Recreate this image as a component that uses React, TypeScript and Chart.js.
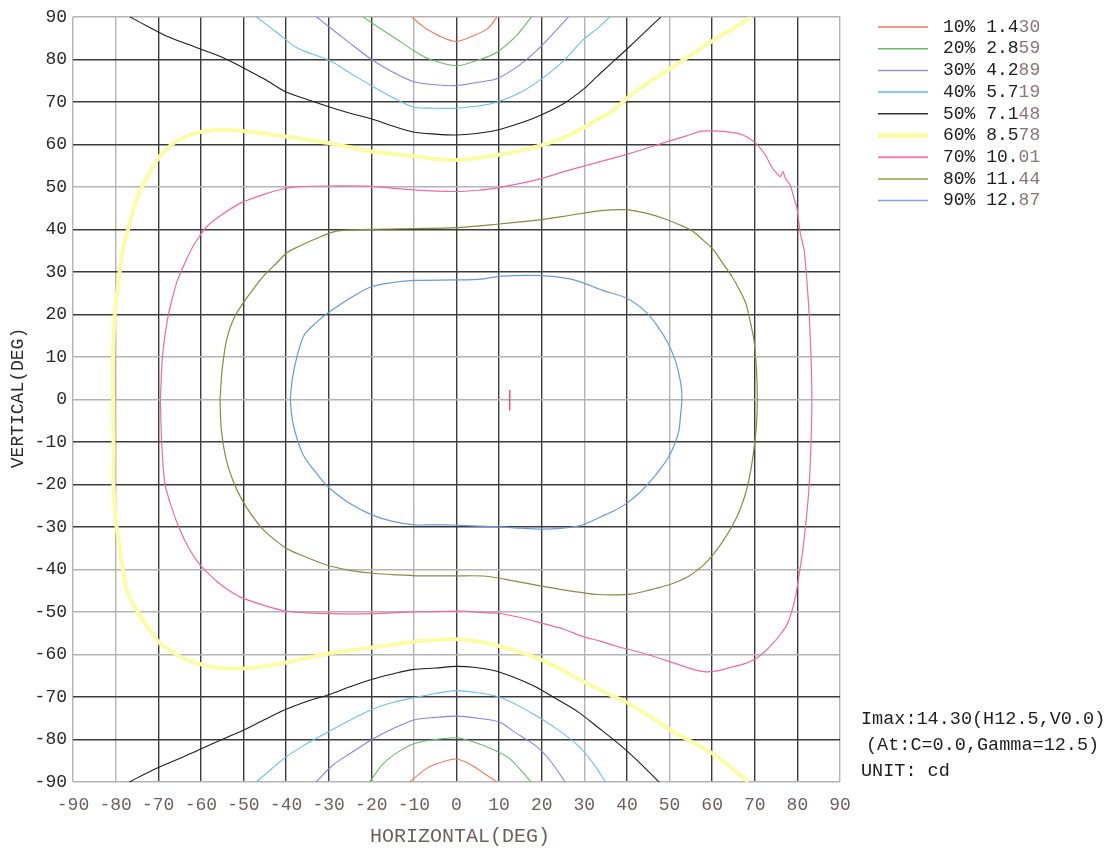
import React, { useEffect, useRef } from 'react';
import { Chart, registerables } from 'chart.js';
Chart.register(...registerables);

type P = [number, number];

// axis ticks
const xTickValues = [-90, -80, -70, -60, -50, -40, -30, -20, -10, 0, 10, 20, 30, 40, 50, 60, 70, 80, 90];
const yTickValues = [-90, -80, -70, -60, -50, -40, -30, -20, -10, 0, 10, 20, 30, 40, 50, 60, 70, 80, 90];
const xGridDark = [-70, -60, -50, -40, -30, -20, 0, 10, 20, 40, 60, 70, 80];
const yGridDark = [80, 70, 60, 40, 30, 20, -10, -20, -30, -70, -80];

// legend
const legendPercents = ['10%', '20%', '30%', '40%', '50%', '60%', '70%', '80%', '90%'];
const legendValues = ['1.430', '2.859', '4.289', '5.719', '7.148', '8.578', '10.01', '11.44', '12.87'];
const legendColors = ['#f07a5c', '#6cbb6c', '#9a96c8', '#5cc0e0', '#333333', '#fcfca4', '#f382b4', '#a09450', '#8c9ee0'];
const legendWidths = [1.5, 1.5, 1.5, 1.5, 1.5, 5, 2, 1.5, 1.5];

// info text
const infoLines = ['Imax:14.30(H12.5,V0.0)', '(At:C=0.0,Gamma=12.5)', 'UNIT: cd'];
const xTitle = 'HORIZONTAL(DEG)';
const yTitle = 'VERTICAL(DEG)';

// contours [H, V]
const c10Top: P[] = [[-10.5, 90], [-8, 87.8], [-6.3, 86.7], [-3, 85], [0, 84.2], [3.9, 85.5], [7.5, 87.4], [9.5, 90]];
const c10Bottom: P[] = [[-11, -90], [-7, -86.8], [-3, -85.2], [0, -84.6], [3.5, -86], [6.5, -88], [9.5, -90]];
const c20Top: P[] = [[-22, 90], [-18, 87.3], [-14, 84.7], [-10, 82], [-6.3, 80], [0, 78.5], [5, 79.8], [9.4, 81.6], [14, 85.5], [17.6, 90]];
const c20Bottom: P[] = [[-20.4, -90], [-17.2, -85.7], [-13.5, -82.8], [-10, -81], [-5, -80], [0, -79.6], [4, -80.6], [8.5, -82.3], [12.5, -84.5], [17.5, -90]];
const c30Top: P[] = [[-32.9, 90], [-28.2, 86.3], [-24, 83], [-20, 80], [-15, 77], [-10.2, 74.8], [-5, 74], [0, 73.8], [5, 74.6], [9.4, 75.4], [15, 78.8], [20, 83.2], [26.3, 90]];
const c30Bottom: P[] = [[-33, -90], [-29, -86], [-25, -83.3], [-20, -80.1], [-15, -77.5], [-10, -75.4], [-5, -74.8], [0, -74.5], [5, -75], [10, -75.9], [14, -78.5], [18.5, -81.4], [22, -85], [25.5, -90]];
const c40Top: P[] = [[-47, 90], [-42, 86.2], [-37.6, 82.8], [-29.8, 79.7], [-25, 76.8], [-20, 73.8], [-15, 71], [-10.2, 68.8], [-5, 68.5], [0, 68.5], [5, 69], [9.4, 69.9], [15, 72.2], [20, 75.4], [25, 79.5], [29.8, 84.7], [33, 87.2], [36, 90]];
const c40Bottom: P[] = [[-47, -90], [-43.5, -87], [-40, -84.1], [-36, -81.5], [-32.1, -79.3], [-26, -76], [-20, -73], [-15, -71.3], [-10, -70.2], [-5, -69.2], [0, -68.5], [5, -69], [10, -70], [14, -71.8], [18.5, -74.3], [23.5, -77.5], [28.5, -81.4], [32, -85.5], [35, -90]];
const c50Top: P[] = [[-76.7, 90], [-72, 87.5], [-68.1, 85.5], [-61.1, 82.8], [-55, 80.5], [-50.2, 78.1], [-45, 75.3], [-40, 72.3], [-34, 70.2], [-29.8, 68.8], [-25, 67.3], [-20, 66], [-15, 64.3], [-10.2, 62.9], [-5, 62.4], [0, 62.2], [5, 62.6], [9.4, 63.3], [15, 65], [19.6, 66.8], [25, 69.5], [29.8, 73], [33, 76], [36.5, 79.2], [40.2, 82.6], [44, 86.2], [48, 90]];
const c50Bottom: P[] = [[-76.8, -90], [-73.5, -88.3], [-70.5, -86.8], [-65, -84.5], [-60.4, -82.4], [-55, -80], [-49.8, -77.7], [-45, -75.3], [-40, -72.9], [-35, -71], [-29.8, -69.4], [-25, -67.6], [-20, -65.9], [-15, -64.6], [-10, -63.5], [-5, -63.2], [0, -62.8], [4, -63], [8.5, -63.7], [13, -65.2], [18.5, -67.6], [23, -70.2], [28.5, -73.5], [33, -77], [38.5, -81.4], [43, -85.5], [47.5, -90]];
const c60: P[] = [[69.3, 90], [64.5, 87], [59.8, 84.2], [55, 81], [50.4, 78], [45, 74.5], [40.2, 71], [36.5, 67.8], [33, 65.8], [30, 64], [25, 61.5], [20, 59.8], [15, 58.5], [9.4, 57.5], [5, 56.8], [0, 56.3], [-5, 56.6], [-10, 57.2], [-15, 57.8], [-20, 58.3], [-25, 59.3], [-30, 60.3], [-37.7, 61.5], [-45.5, 62.6], [-53.3, 63.4], [-59.5, 63], [-63, 62], [-65.8, 60.7], [-68.5, 58.5], [-70.5, 56], [-73, 51.5], [-75.2, 46.7], [-76.8, 41], [-78.3, 35.1], [-79.3, 28], [-80.2, 20], [-80.6, 10], [-80.6, 0], [-80.5, -10], [-80.5, -20], [-80, -28], [-79, -35], [-78.3, -40], [-77, -46], [-73.7, -51.7], [-69.8, -57.2], [-66.5, -59.5], [-63.5, -61.2], [-60, -62.3], [-56.4, -63.1], [-52, -63.3], [-47.8, -63.1], [-42, -62.3], [-36.8, -61.2], [-29, -59.6], [-23, -58.8], [-17.3, -58], [-10, -57], [-5, -56.6], [0, -56.4], [5, -57], [10.1, -58], [15, -59.5], [20, -61.3], [25, -63.8], [30, -66.5], [35, -69], [40, -71.3], [45, -74.3], [50, -77.6], [55, -80.5], [60, -83.2], [64, -86.2], [68.5, -90]];
const c70: P[] = [[-69.5, 0], [-69, 10], [-67.6, 20], [-65.5, 28], [-61.9, 35.9], [-58.75, 40.5], [-55, 43.5], [-50.2, 46.4], [-45, 48.3], [-40.8, 49.5], [-37.7, 50], [-30, 50.2], [-20, 50.1], [-10.2, 49.3], [0, 48.9], [5, 49.2], [9.4, 49.7], [15, 50.8], [20, 52], [26, 53.8], [32.9, 55.7], [40.2, 57.7], [45, 59.2], [50, 60.8], [54, 62], [57.5, 63.1], [61.4, 63.1], [64.5, 62.8], [66.9, 62.3], [69, 61.2], [70.5, 60], [72.5, 57.5], [74, 54.6], [75.3, 53], [76, 52.4], [76.6, 53.6], [77.2, 52], [78.3, 50.5], [79.3, 47], [79.9, 45], [80.7, 39], [81.6, 35.1], [82.3, 27], [82.8, 19.4], [83.2, 10], [83.4, 0], [83.2, -10], [82.8, -19.6], [82.2, -27], [81.3, -35.3], [80.6, -40], [79.6, -46.2], [78.5, -50.5], [77.5, -53.1], [76, -55.3], [74.5, -57.1], [72.5, -59.2], [70.2, -61], [67.5, -62.2], [64.5, -63], [61.5, -63.8], [58.5, -64.1], [55.5, -63.5], [52.5, -62.5], [48, -61], [43.5, -59.6], [38.4, -58.3], [33.5, -56.8], [29.7, -55.8], [25, -54], [19.5, -52.5], [15, -51.3], [10, -50.3], [7.8, -50.2], [0.7, -49.8], [-5, -49.9], [-10.3, -50], [-19.7, -50.4], [-29.9, -50.4], [-35, -50.2], [-40.1, -49.8], [-45, -48.5], [-50.3, -46.7], [-53, -45.2], [-55.8, -43.2], [-58.2, -41], [-60.5, -38.5], [-62.8, -35], [-65.2, -30], [-67, -25], [-68.4, -20], [-69.2, -10], [-69.5, 0]];
const c80: P[] = [[-55.5, 0], [-55, 7], [-53.9, 14.3], [-52.3, 19], [-50, 22.8], [-47.5, 26.2], [-45.3, 29], [-42.5, 31.8], [-39.8, 34.5], [-37.6, 35.7], [-33, 37.8], [-28.2, 39.6], [-20, 40], [-10, 40.2], [0, 40.4], [9.4, 41.2], [20, 42.3], [26, 43.2], [32.9, 44.3], [36.5, 44.6], [40.2, 44.6], [44.5, 43.8], [48.8, 42.5], [52, 41.2], [55.1, 39.8], [57.5, 37.8], [60.2, 35.3], [62.5, 32], [64.7, 28.8], [66.5, 25.6], [67.9, 22.6], [69, 18], [69.8, 14], [70.4, 7], [70.6, 0], [70.4, -6], [69.8, -11.7], [69, -17], [67.9, -21.9], [66.5, -26], [64.7, -29.8], [62.5, -33.4], [60, -36.8], [57.5, -39.4], [54.5, -41.6], [51.5, -43], [48.9, -43.9], [45.4, -44.8], [41, -45.8], [37, -46], [33, -45.9], [29.9, -45.5], [25, -44.8], [20.3, -44], [14, -42.8], [7, -41.6], [0, -41.5], [-9.5, -41.5], [-15, -41.2], [-19.7, -40.9], [-25, -40.2], [-30.7, -38.9], [-35.5, -37], [-40, -35], [-45, -31], [-47.5, -28], [-50.3, -23.7], [-52.5, -19], [-54.2, -13.5], [-55.2, -7], [-55.5, 0]];
const c90: P[] = [[-39, 0], [-38.5, 5], [-37.3, 10.6], [-35.7, 15.2], [-33, 18], [-30.2, 20.3], [-25, 23.8], [-20, 26.5], [-15, 27.5], [-9.8, 28], [0, 28.1], [5.9, 28.3], [10.6, 29], [20, 29.1], [26.3, 28.4], [30, 27.3], [34.1, 25.7], [40, 23.8], [44.3, 20.7], [47.2, 17.2], [49.4, 13.7], [51.4, 9], [52.6, 4], [52.9, 0], [52.6, -3.5], [52.2, -7.3], [51.2, -10.5], [49.8, -13.5], [47.6, -16.7], [45.1, -19.7], [42.7, -22.2], [40, -24.4], [37, -26.2], [34.1, -27.5], [29.4, -29.6], [25, -30.3], [20, -30.5], [15, -30.3], [10.6, -30], [5, -29.8], [0, -29.6], [-5, -29.5], [-9.8, -29.5], [-15, -28.7], [-20, -27.1], [-25, -24.5], [-30.2, -20.5], [-34.1, -15.8], [-36, -13], [-37.3, -9.6], [-38.5, -5], [-39, 0]];
const imaxMark: P[] = [[12.5, 2.2], [12.5, -2.6]];

const MONO = '"Liberation Mono", "DejaVu Sans Mono", monospace';

function line(pts: P[], color: string, width: number, tension = 0.3) {
  return {
    data: pts.map(([x, y]) => ({ x, y })),
    showLine: true,
    borderColor: color,
    backgroundColor: color,
    borderWidth: width,
    pointRadius: 0,
    pointHoverRadius: 0,
    tension,
    fill: false,
  };
}

const textPlugin = {
  id: 'customTexts',
  afterDraw(chart: any) {
    const ctx: CanvasRenderingContext2D = chart.ctx;
    ctx.save();
    // legend
    ctx.textBaseline = 'middle';
    ctx.textAlign = 'left';
    ctx.font = `18px ${MONO}`;
    for (let i = 0; i < legendPercents.length; i++) {
      const y = 27 + i * 21.7;
      ctx.strokeStyle = legendColors[i];
      ctx.lineWidth = legendWidths[i];
      ctx.beginPath();
      ctx.moveTo(878, y);
      ctx.lineTo(928, y);
      ctx.stroke();
      const v = legendValues[i];
      const head = legendPercents[i] + ' ' + v.slice(0, v.length - 2);
      const tail = v.slice(v.length - 2);
      ctx.fillStyle = '#1e1e1e';
      ctx.fillText(head, 943, y);
      const w = ctx.measureText(head).width;
      ctx.fillStyle = '#8a7676';
      ctx.fillText(tail, 943 + w, y);
    }
    // info lines
    ctx.fillStyle = '#1e1e1e';
    ctx.font = `18.5px ${MONO}`;
    ctx.fillText(infoLines[0], 861, 719);
    ctx.fillText(infoLines[1], 866, 745);
    ctx.fillText(infoLines[2], 861, 771);
    // axis titles
    ctx.fillStyle = '#6e5f5f';
    ctx.font = `20px ${MONO}`;
    ctx.textAlign = 'center';
    ctx.fillText(xTitle, 460, 837);
    ctx.save();
    ctx.translate(18, 398);
    ctx.rotate(-Math.PI / 2);
    ctx.fillStyle = '#2a2a2a';
    ctx.font = `18px ${MONO}`;
    ctx.fillText(yTitle, 0, 0);
    ctx.restore();
    ctx.restore();
  },
};

export default function App() {
  const ref = useRef<HTMLCanvasElement | null>(null);
  useEffect(() => {
    if (!ref.current) return;
    const chart = new Chart(ref.current, {
      type: 'scatter',
      data: {
        datasets: [
          line(imaxMark, '#ee3333', 1.2, 0),
          line(c10Top, '#f07a5c', 1.1),
          line(c10Bottom, '#f07a5c', 1.1),
          line(c20Top, '#6cbb6c', 1.1),
          line(c20Bottom, '#6cbb6c', 1.1),
          line(c30Top, '#8a80e8', 1.1),
          line(c30Bottom, '#8a80e8', 1.1),
          line(c40Top, '#6cc0ec', 1.1),
          line(c40Bottom, '#6cc0ec', 1.1),
          line(c50Top, '#1e1e1e', 1.1),
          line(c50Bottom, '#1e1e1e', 1.1),
          line(c70, '#f06aa6', 1.2, 0.2),
          line(c80, '#8e8840', 1.2),
          line(c90, '#6a98e0', 1.2),
          line(c60, '#fcfca4', 4),
        ] as any,
      },
      options: {
        responsive: false,
        maintainAspectRatio: false,
        animation: false,
        layout: { padding: { top: 14, right: 274, left: 0, bottom: 0 } },
        plugins: { legend: { display: false }, tooltip: { enabled: false } },
        scales: {
          x: {
            type: 'linear',
            min: -90,
            max: 90,
            afterBuildTicks: (s: any) => { s.ticks = xTickValues.map((v) => ({ value: v })); },
            afterFit: (s: any) => { s.height = 66; },
            ticks: { color: '#6e5f5f', font: { family: MONO, size: 18 }, padding: 12, maxRotation: 0, autoSkip: false, callback: (v: any) => String(v) },
            grid: {
              drawTicks: false,
              lineWidth: 1.4,
              color: (c: any) => (c.tick && xGridDark.includes(c.tick.value) ? '#3c3c3c' : '#b4b4b4'),
            },
            border: { display: false },
          },
          y: {
            type: 'linear',
            min: -90,
            max: 90,
            afterBuildTicks: (s: any) => { s.ticks = yTickValues.map((v) => ({ value: v })); },
            afterFit: (s: any) => { s.width = 73; },
            ticks: { color: '#2a2a2a', font: { family: MONO, size: 18 }, padding: 6, autoSkip: false, callback: (v: any) => String(v) },
            grid: {
              drawTicks: false,
              lineWidth: 1.4,
              color: (c: any) => (c.tick && yGridDark.includes(c.tick.value) ? '#3c3c3c' : '#b4b4b4'),
            },
            border: { display: false },
          },
        },
      } as any,
      plugins: [textPlugin],
    });
    return () => chart.destroy();
  }, []);
  return (
    <div style={{ position: 'absolute', left: 0, top: 0, width: 1114, height: 848, background: '#fff' }}>
      <canvas ref={ref} width={1114} height={848} style={{ display: 'block', width: 1114, height: 848 }} />
    </div>
  );
}
